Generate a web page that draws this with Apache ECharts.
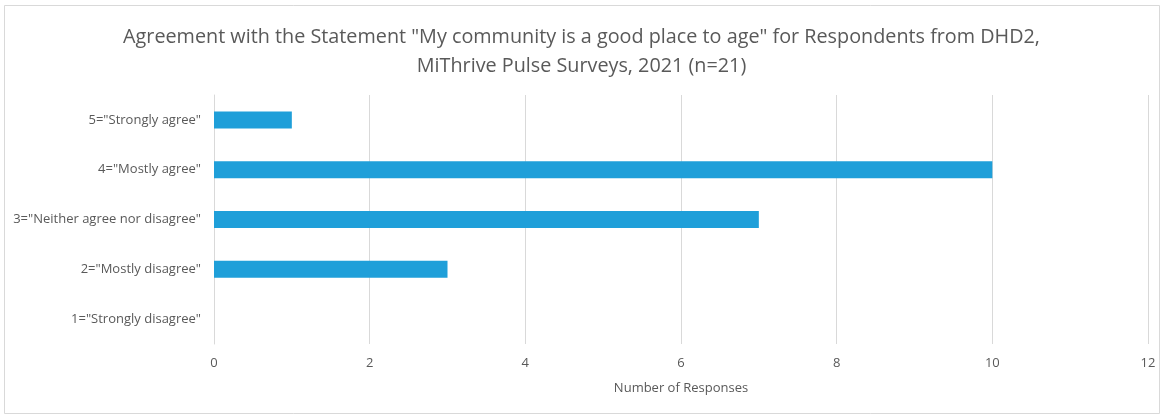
<!DOCTYPE html>
<html>
<head>
<meta charset="utf-8">
<script src="https://cdn.jsdelivr.net/npm/echarts@6/dist/echarts.min.js"></script>
<style>
  html, body { margin: 0; padding: 0; background: #ffffff; }
  #chart { width: 1163px; height: 417px; }
</style>
</head>
<body>
<div id="chart"></div>
<script>
// Survey response categories (bottom to top) and counts
const categories = [
  '1="Strongly disagree"',
  '2="Mostly disagree"',
  '3="Neither agree nor disagree"',
  '4="Mostly agree"',
  '5="Strongly agree"'
];
const responses = [0, 3, 7, 10, 1];
const xTicks = { min: 0, max: 12, interval: 2 };

const titleText = 'Agreement with the Statement "My community is a good place to age" for Respondents from DHD2,\nMiThrive Pulse Surveys, 2021 (n=21)';
const fontFamily = '"Open Sans", "Liberation Sans", sans-serif';

const chart = echarts.init(document.getElementById('chart'), null, { renderer: 'canvas' });
chart.setOption({
  animation: false,
  backgroundColor: '#ffffff',
  graphic: [{
    type: 'rect',
    shape: { x: 4.5, y: 5.5, width: 1155, height: 408 },
    style: { fill: 'none', stroke: '#d9d9d9', lineWidth: 1 },
    silent: true
  }],
  title: {
    text: titleText,
    left: 'center',
    top: 18,
    textStyle: {
      fontFamily: fontFamily,
      fontSize: 19.8,
      fontWeight: 'normal',
      color: '#595959',
      lineHeight: 29
    }
  },
  grid: { left: 214, right: 15, top: 95, bottom: 73, containLabel: false },
  xAxis: {
    type: 'value',
    min: xTicks.min,
    max: xTicks.max,
    interval: xTicks.interval,
    name: 'Number of Responses',
    nameLocation: 'middle',
    nameGap: 38,
    nameTextStyle: { fontFamily: fontFamily, fontSize: 13, color: '#595959' },
    axisLine: { show: false },
    axisTick: { show: false },
    axisLabel: { fontFamily: fontFamily, fontSize: 13, color: '#595959', margin: 13 },
    splitLine: { show: true, lineStyle: { color: '#d9d9d9', width: 1 } }
  },
  yAxis: {
    type: 'category',
    data: categories,
    axisLine: { show: true, lineStyle: { color: '#d9d9d9', width: 1 } },
    axisTick: { show: false },
    axisLabel: { fontFamily: fontFamily, fontSize: 13, color: '#595959', margin: 13 },
    splitLine: { show: false }
  },
  series: [{
    type: 'bar',
    data: responses,
    barWidth: 17,
    itemStyle: { color: '#1f9fd9' }
  }]
});
</script>
</body>
</html>
